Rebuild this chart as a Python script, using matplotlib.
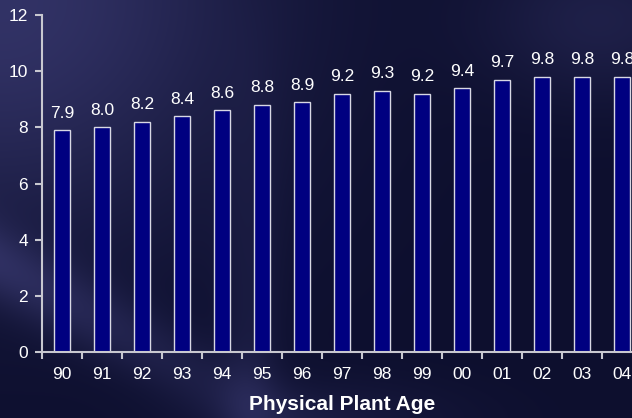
import matplotlib.pyplot as plt
import numpy as np

plt.rcParams['font.family'] = ['Liberation Sans', 'DejaVu Sans']

years = ["90", "91", "92", "93", "94", "95", "96", "97", "98", "99",
         "00", "01", "02", "03", "04"]
plant_age = [7.9, 8.0, 8.2, 8.4, 8.6, 8.8, 8.9, 9.2, 9.3, 9.2,
             9.4, 9.7, 9.8, 9.8, 9.8]

W, H = 632, 418
fig = plt.figure(figsize=(W / 100, H / 100), dpi=100)

# dark blue slide backdrop with soft lighter streaks
yy, xx = np.mgrid[0:H, 0:W].astype(float)
base = np.array([13, 15, 46]) / 255.0
glow = np.array([62, 62, 120]) / 255.0
w = 0.75 * np.exp(-((xx / 260) ** 2 + (yy / 230) ** 2))
d = (yy - 0.55 * xx - 265) / 40.0
w += 0.5 * np.exp(-d ** 2) * np.clip(1 - xx / 420, 0, 1)
w += 0.35 * np.exp(-(((xx - 600) / 120) ** 2 + ((yy - 20) / 80) ** 2))
w += 0.25 * np.exp(-(((xx - 250) / 30) ** 2)) * np.clip(yy / 400, 0, 1)
w += 0.20 * np.exp(-(((xx - 330) / 140) ** 2 + ((yy - 418) / 40) ** 2))
w = np.clip(w, 0, 1)[..., None]
bg = base * (1 - w) + glow * w
bgax = fig.add_axes([0, 0, 1, 1], zorder=-1)
bgax.imshow(bg, aspect='auto', interpolation='bilinear')
bgax.axis('off')

ax = fig.add_axes([42 / W, 66 / H, 600 / W, 337 / H])
ax.set_facecolor('none')

x = np.arange(len(years))
bars = ax.bar(x, plant_age, width=0.4, color='#000080',
              edgecolor='#d8d8e4', linewidth=1.0, zorder=2)
for xi, v in zip(x, plant_age):
    ax.annotate(f"{v:.1f}", (xi, v), xytext=(0, 9), textcoords='offset points',
                ha='center', va='baseline', color='white', fontsize=12.5)

ax.set_xlim(-0.5, len(years) - 0.5)
ax.set_ylim(0, 12)
ax.set_yticks(np.arange(0, 13, 2))
ax.set_xticks(x)
ax.set_xticklabels(years)
ax.set_xticks(np.arange(-0.5, len(years), 1.0), minor=True)

axis_col = '#c8c8d0'
for s in ['top', 'right']:
    ax.spines[s].set_visible(False)
for s in ['left', 'bottom']:
    ax.spines[s].set_color(axis_col)
    ax.spines[s].set_linewidth(1.5)

ax.tick_params(axis='x', which='major', length=0, pad=11, labelsize=12.5,
               labelcolor='white')
ax.tick_params(axis='x', which='minor', length=5, width=1.5, color=axis_col)
ax.tick_params(axis='y', length=5, width=1.5, color=axis_col, pad=5,
               labelsize=12.5, labelcolor='white')

fig.text(342 / W, 1 - 404 / H, "Physical Plant Age", ha='center', va='center',
         color='white', fontsize=15, fontweight='bold')

fig.savefig("out.png", dpi=100)
